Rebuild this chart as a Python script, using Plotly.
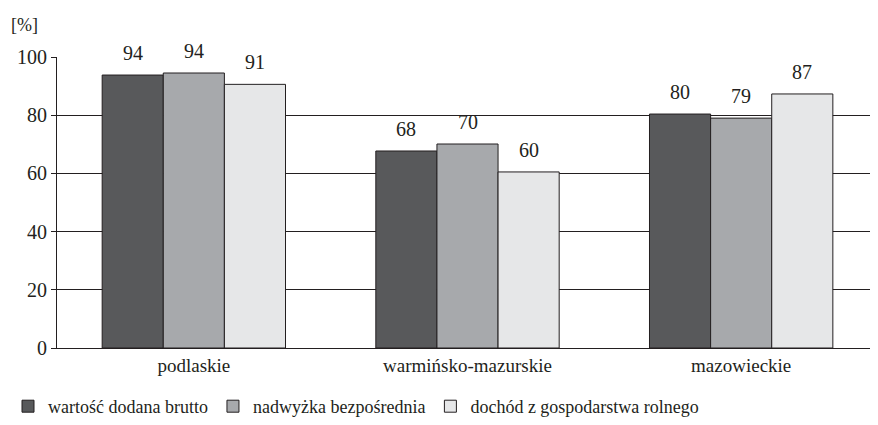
import plotly.graph_objects as go

categories = ["podlaskie", "warmińsko-mazurskie", "mazowieckie"]
series_names = ["wartość dodana brutto", "nadwyżka bezpośrednia", "dochód z gospodarstwa rolnego"]
values_wdb = [93.8, 67.7, 80.4]
values_nb = [94.5, 70.1, 79.0]
values_dgr = [90.6, 60.5, 87.3]
labels_wdb = ["94", "68", "80"]
labels_nb = ["94", "70", "79"]
labels_dgr = ["91", "60", "87"]
y_ticks = [0, 20, 40, 60, 80, 100]

colors = ["#58595b", "#a7a9ac", "#e6e7e8"]
FONT = "Times New Roman, Liberation Serif, serif"
INK = "#231f20"

fig = go.Figure()
series = [values_wdb, values_nb, values_dgr]
labels = [labels_wdb, labels_nb, labels_dgr]
for name, vals, col in zip(series_names, series, colors):
    fig.add_trace(go.Bar(
        x=categories, y=vals, name=name,
        marker=dict(color=col, line=dict(color=INK, width=1)),
    ))

# value labels above bars
n = len(series)
group_w = 1 - 0.33
bw = group_w / n
for i, (vals, labs) in enumerate(zip(series, labels)):
    for j, (v, t) in enumerate(zip(vals, labs)):
        fig.add_annotation(
            x=j - group_w / 2 + bw * (i + 0.5), y=v, xref="x", yref="y",
            text=t, showarrow=False, yshift=22,
            font=dict(family=FONT, size=20),
        )

fig.add_annotation(
    x=-0.058, y=1.07, xref="paper", yref="paper", text="[%]", showarrow=False,
    xanchor="left", yanchor="bottom",
    font=dict(family=FONT, size=18),
)

fig.update_layout(
    width=870, height=417,
    margin=dict(l=49, r=0, t=49, b=77),
    paper_bgcolor="white", plot_bgcolor="white",
    barmode="group", bargap=0.33, bargroupgap=0,
    font=dict(family=FONT, size=18, color=INK),
    showlegend=True,
    legend=dict(
        orientation="h", xref="container", yref="container",
        x=-0.014, y=0.0, xanchor="left", yanchor="bottom",
        font=dict(family=FONT, size=18),
        traceorder="normal",
    ),
    xaxis=dict(
        showline=True, linecolor=INK, linewidth=1,
        ticks="", tickfont=dict(family=FONT, size=19),
        showgrid=False,
    ),
    yaxis=dict(
        range=[0, 100], tickvals=y_ticks,
        showline=True, linecolor=INK, linewidth=1,
        showgrid=True, gridcolor=INK, gridwidth=1,
        ticks="outside", ticklen=5, tickcolor=INK,
        tickfont=dict(family=FONT, size=20),
        zeroline=False,
    ),
)

fig.write_html("out.html")
